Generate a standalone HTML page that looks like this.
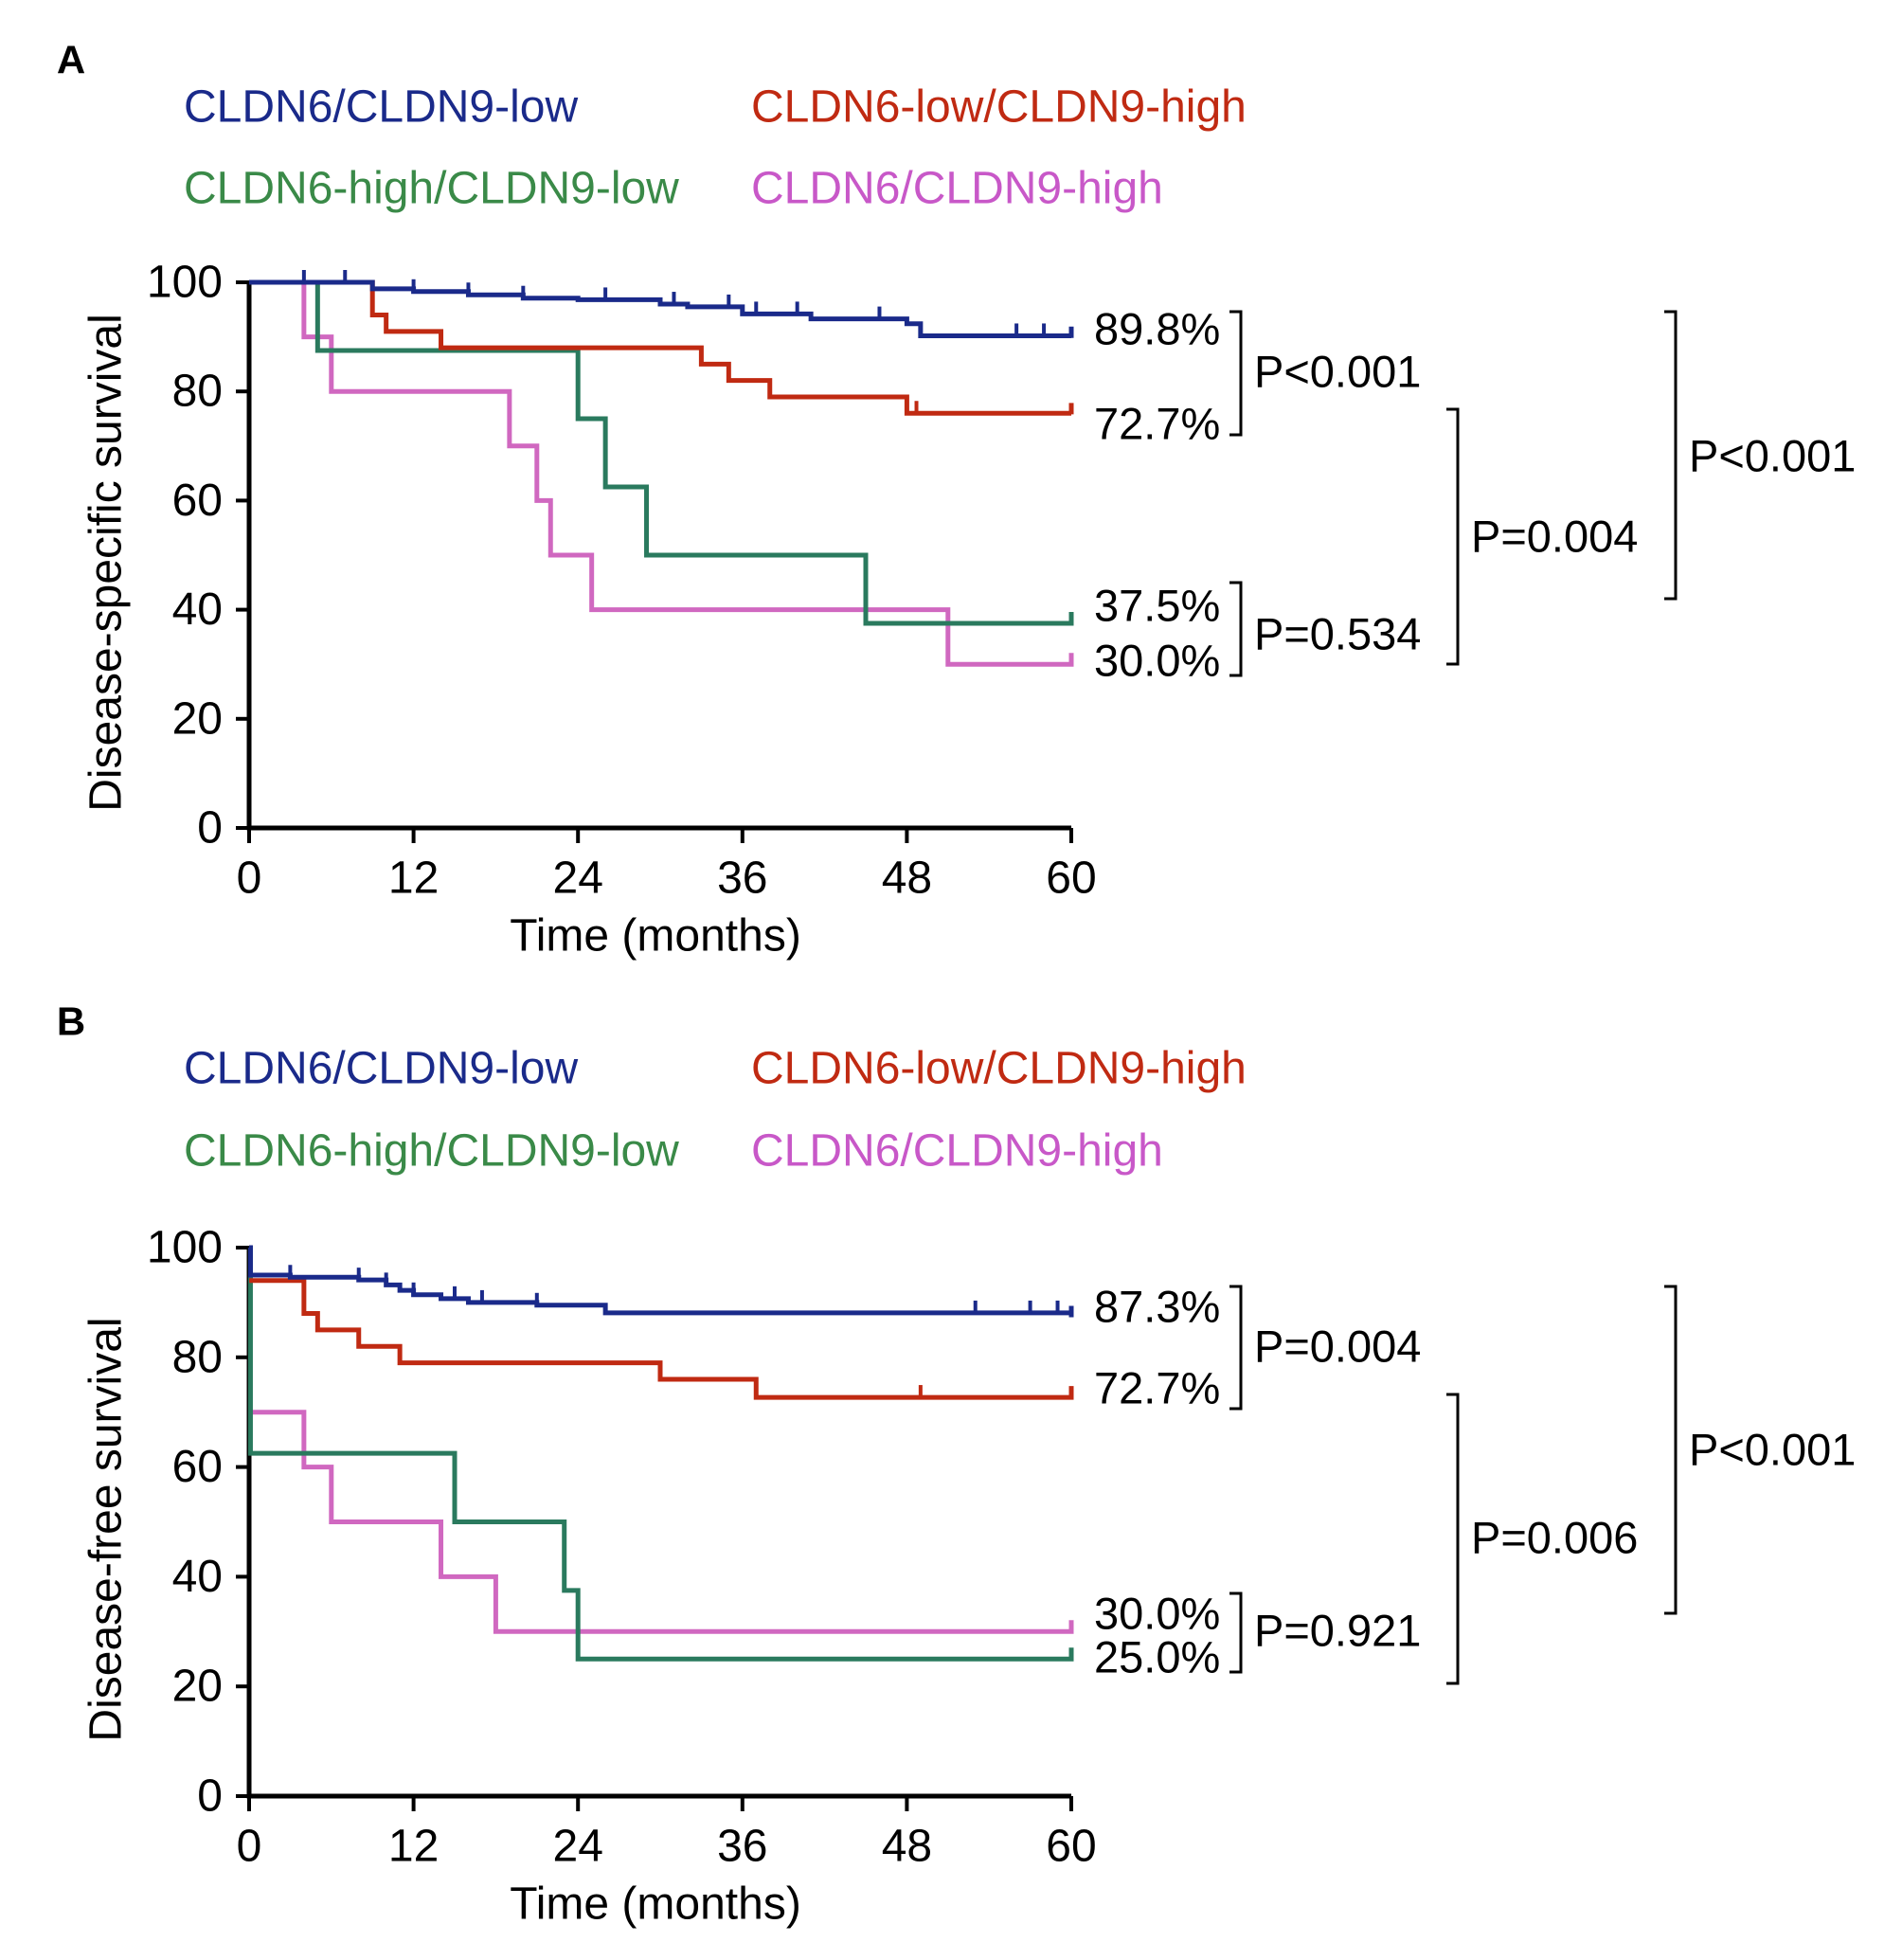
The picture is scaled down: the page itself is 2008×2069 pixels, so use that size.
<!DOCTYPE html>
<html><head><meta charset="utf-8">
<style>
html,body{margin:0;padding:0;background:#fff;}
svg{display:block;font-family:"Liberation Sans",Arial,sans-serif;}
</style></head>
<body>
<svg id="fig" width="2008" height="2069" viewBox="0 0 2008 2069"></svg>
<script>
// ---- Panel A data (months, percent) ----
const monthTicks = [0, 12, 24, 36, 48, 60];
const pctTicks = [0, 20, 40, 60, 80, 100];
const seriesNames = ["CLDN6/CLDN9-low", "CLDN6-low/CLDN9-high", "CLDN6-high/CLDN9-low", "CLDN6/CLDN9-high"];
const aBlueT = [0, 9, 12, 16, 20, 24, 30, 32, 36, 41, 48, 49, 60];
const aBlueS = [100, 98.8, 98.3, 97.7, 97.1, 96.8, 96.0, 95.5, 94.2, 93.3, 92.4, 90.2, 89.8];
const aBlueCens = [4, 7, 12, 16, 20, 26, 31, 35, 37, 40, 46, 56, 58];
const aRedT = [0, 9, 10, 14, 33, 35, 38, 48, 60];
const aRedS = [100, 94, 91, 88, 85, 82, 79, 76, 75.8];
const aRedCens = [48.7];
const aGreenT = [0, 5, 24, 26, 29, 45, 60];
const aGreenS = [100, 87.5, 75, 62.5, 50, 37.5, 37.5];
const aPinkT = [0, 4, 6, 19, 21, 22, 25, 51, 60];
const aPinkS = [100, 90, 80, 70, 60, 50, 40, 30, 30];
// ---- Panel B data ----
const bBlueT = [0, 0.1, 3, 8, 10, 11, 12, 14, 16, 21, 26, 60];
const bBlueS = [100, 95, 94.6, 94.1, 93.2, 92.2, 91.4, 90.7, 90, 89.5, 88.1, 87.3];
const bBlueCens = [3, 8, 10, 12, 15, 17, 21, 53, 57, 59];
const bRedT = [0, 4, 5, 8, 11, 30, 37, 60];
const bRedS = [94, 88, 85, 82, 79, 76, 72.7, 72.7];
const bRedCens = [49];
const bGreenT = [0, 0.1, 15, 23, 24, 60];
const bGreenS = [100, 62.5, 50, 37.5, 25, 25];
const bPinkT = [0, 4, 6, 14, 18, 60];
const bPinkS = [70, 60, 50, 40, 30, 30];

const NS = "http://www.w3.org/2000/svg";
const svg = document.getElementById("fig");
const colors = ["#1a2a8a", "#c02a12", "#2a7a5e", "#d068c0"];
const legendColors = ["#1a2a8a", "#c02a12", "#3a8a48", "#c858c8"];

function mk(tag, attrs, parent) {
  const e = document.createElementNS(NS, tag);
  for (const k in attrs) e.setAttribute(k, attrs[k]);
  (parent || svg).appendChild(e);
  return e;
}
function txt(s, x, y, size, fill, anchor, parent) {
  const t = mk("text", {x: x, y: y, "font-size": size, fill: fill, "text-anchor": anchor || "start", "dominant-baseline": "central"}, parent);
  t.textContent = s;
  return t;
}

function panel(cfg) {
  const g = mk("g", {});
  
  
  const x0 = 263, x1 = 1131, y100 = cfg.y100, y0 = cfg.y0;
  const X = m => x0 + (m / 60) * (x1 - x0);
  const Y = p => y0 - (p / 100) * (y0 - y100);

  const lab = txt(cfg.letter, 75, cfg.letterY, 42, "#000", "middle", g);
  lab.setAttribute("font-weight", "bold");
  
  

  const lx = [194, 793, 194, 793];
  const ly = [cfg.legY1, cfg.legY1, cfg.legY2, cfg.legY2];
  for (let i = 0; i < 4; i++) {
    const t = txt(seriesNames[i], lx[i], ly[i], 48, legendColors[i], "start", g);
    
    
  }

  const ax = mk("path", {d: `M${X(0)},${y100} V${y0} H${X(60)}`, stroke: "#000", "stroke-width": 5, fill: "none"}, g);
  
  
  pctTicks.forEach(p => {
    mk("line", {x1: X(0) - 14, x2: X(0), y1: Y(p), y2: Y(p), stroke: "#000", "stroke-width": 4}, g);
    const t = txt(String(p), X(0) - 28, Y(p), 48, "#000", "end", g);
    
    
  });
  monthTicks.forEach(m => {
    mk("line", {x1: X(m), x2: X(m), y1: y0, y2: y0 + 16, stroke: "#000", "stroke-width": 4}, g);
    const t = txt(String(m), X(m), y0 + 53, 48, "#000", "middle", g);
    
    
  });
  const xt = txt("Time (months)", 692, y0 + 114, 48, "#000", "middle", g);
  
  
  const yc = (y0 + y100) / 2 + 8;
  const yt = txt(cfg.ylabel, 112, yc, 48, "#000", "middle", g);
  yt.setAttribute("transform", `rotate(-90 112 ${yc})`);
  
  

  cfg.series.forEach((s, i) => {
    let d = `M${X(s.t[0])},${Y(s.s[0])}`;
    for (let k = 1; k < s.t.length; k++) {
      d += ` H${X(s.t[k])} V${Y(s.s[k])}`;
    }
    d += ` v${-12}`;
    const p = mk("path", {d: d, stroke: colors[s.c], "stroke-width": 5, fill: "none"}, g);
    
    
    (s.cens || []).forEach(cm => {
      let v = s.s[0];
      for (let k = 0; k < s.t.length; k++) if (s.t[k] <= cm) v = s.s[k];
      const c = mk("line", {x1: X(cm), x2: X(cm), y1: Y(v), y2: Y(v) - 13, stroke: colors[s.c], "stroke-width": 4}, g);
      
      
    });
  });

  cfg.ends.forEach(e => {
    const t = txt(e[0], 1155, e[1], 47, "#000", "start", g);
    
    
  });
  cfg.brackets.forEach(b => {
    const p = mk("path", {d: `M${b[0] - 12},${b[1]} H${b[0]} V${b[2]} H${b[0] - 12}`, stroke: "#000", "stroke-width": 3, fill: "none"}, g);
    
    
    const t = txt(b[3], b[0] + 14, b[4], 47, "#000", "start", g);
    
    
  });
}

panel({
  id: "panel-a", letter: "A", letterY: 63, legY1: 113, legY2: 199,
  y100: 298, y0: 874, ylabel: "Disease-specific survival",
  series: [
    {t: aPinkT, s: aPinkS, c: 3},
    {t: aGreenT, s: aGreenS, c: 2},
    {t: aRedT, s: aRedS, c: 1, cens: aRedCens},
    {t: aBlueT, s: aBlueS, c: 0, cens: aBlueCens}
  ],
  ends: [["89.8%", 347], ["72.7%", 447], ["37.5%", 639], ["30.0%", 697]],
  brackets: [
    [1310, 329, 459, "P<0.001", 392],
    [1310, 615, 713, "P=0.534", 669],
    [1539, 432, 701, "P=0.004", 566],
    [1769, 329, 632, "P<0.001", 481]
  ]
});
panel({
  id: "panel-b", letter: "B", letterY: 1078, legY1: 1128, legY2: 1215,
  y100: 1317, y0: 1896, ylabel: "Disease-free survival",
  series: [
    {t: bPinkT, s: bPinkS, c: 3},
    {t: bGreenT, s: bGreenS, c: 2},
    {t: bRedT, s: bRedS, c: 1, cens: bRedCens},
    {t: bBlueT, s: bBlueS, c: 0, cens: bBlueCens}
  ],
  ends: [["87.3%", 1379], ["72.7%", 1465], ["30.0%", 1703], ["25.0%", 1749]],
  brackets: [
    [1310, 1358, 1487, "P=0.004", 1421],
    [1310, 1682, 1765, "P=0.921", 1721],
    [1539, 1472, 1777, "P=0.006", 1623],
    [1769, 1358, 1703, "P<0.001", 1530]
  ]
});
</script>
</body></html>
